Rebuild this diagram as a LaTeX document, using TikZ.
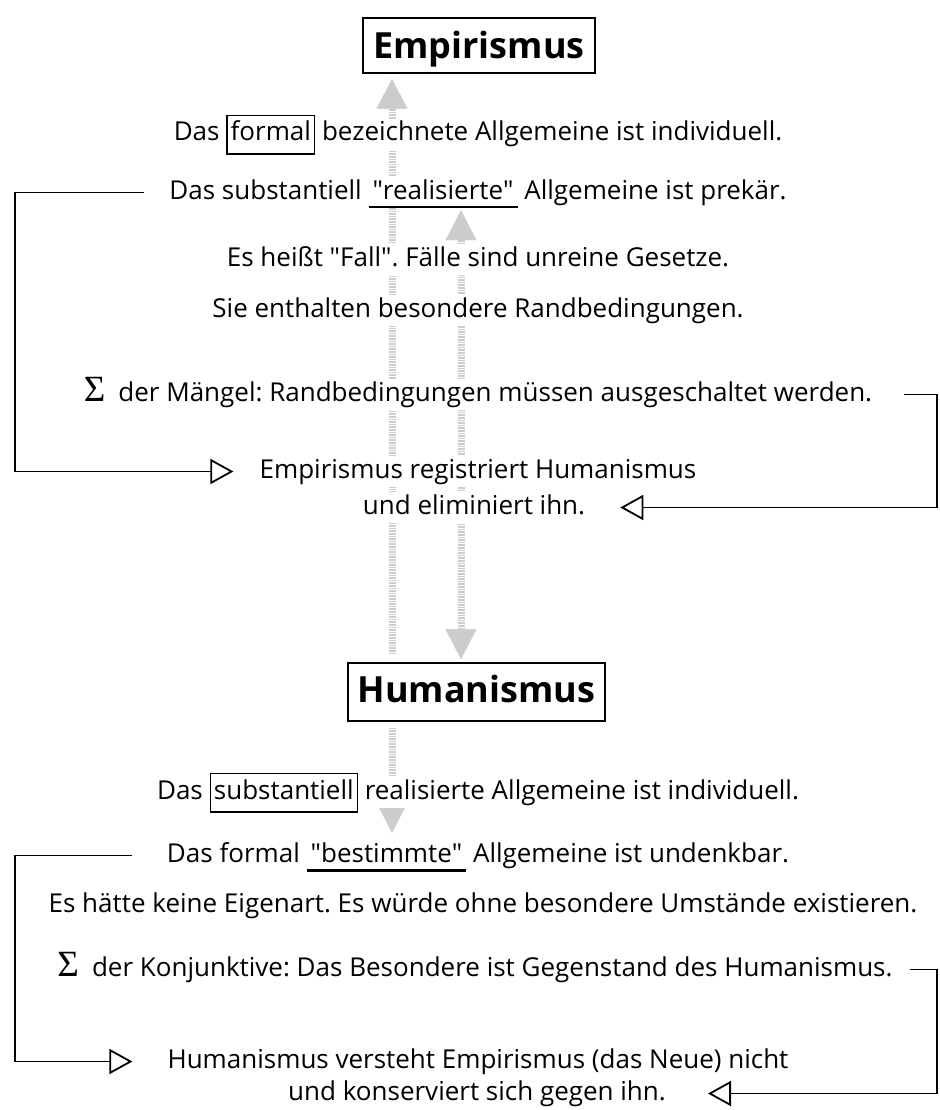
\documentclass[tikz,border=0pt]{standalone}
\usepackage{fontspec}
\setmainfont{Open Sans}
\newfontfamily\summenschrift{Liberation Serif}
\usepackage{tikz}
\usetikzlibrary{positioning, arrows.meta, calc, backgrounds}
\frenchspacing

\newcommand{\rahmen}[1]{{\setlength{\fboxsep}{3pt}\setlength{\fboxrule}{1.3pt}\fbox{\strut #1}}}
\newcommand{\unterstr}[1]{\setbox0\hbox{\kern4pt #1\kern4pt}\rlap{\rule[-9.5pt]{\wd0}{2.6pt}}\box0\relax}
\newcommand{\summe}{{\summenschrift\fontsize{37}{37}\selectfont Σ}\hspace{13pt}}
\newcommand{\gz}{\textquotedbl}

\begin{document}
\begin{tikzpicture}[x=1pt, y=-1pt,
                grauspitze/.tip={Triangle[length=30pt, width=31pt, line width=0.4pt, fill=gray!40]},
                titel/.style={draw=black, line width=1.6pt, fill=white, inner sep=0pt, font=\fontsize{36}{44}\fontseries{sb}\selectfont, text height=26pt, text depth=0pt},
                zeile/.style={anchor=base, fill=white, inner xsep=0pt, inner ysep=3pt, font=\fontsize{26}{31}\selectfont, text height=19pt, text depth=6pt},
                klammer/.style={line width=1.8pt, -{Triangle[open, length=23pt, width=25pt]}},
                pfeil/.style={draw=gray!40, line width=7pt, dash pattern=on 1.6pt off 1pt, -grauspitze}
            ]
            \useasboundingbox (0,0) rectangle (939,1110);

            % Knoten
            \node[titel, minimum width=232pt, minimum height=55pt] (emp) at (479,45.5) {Empirismus};
            \node[zeile] (z1) at (478,141) {Das \rahmen{formal} bezeichnete Allgemeine ist individuell.};
            \node[zeile] (z2) at (478,199) {Das substantiell \unterstr{\gz realisierte\gz} Allgemeine ist prekär.};
            \node[zeile] (z3) at (478,266) {Es heißt \gz Fall\gz. Fälle sind unreine Gesetze.};
            \node[zeile] (z4) at (478,317) {Sie enthalten besondere Randbedingungen.};
            \node[zeile] (z5) at (478,401) {\summe der Mängel: Randbedingungen müssen ausgeschaltet werden.};
            \node[zeile] (z6) at (478,478) {Empirismus registriert Humanismus};
            \node[zeile] (z7) at (474,514) {und eliminiert ihn.};

            \node[titel, minimum width=257pt, minimum height=58pt, text height=27pt, text depth=7pt] (hum) at (476.5,692) {Humanismus};
            \node[zeile] (z8) at (478,799) {Das \rahmen{substantiell} realisierte Allgemeine ist individuell.};
            \node[zeile] (z9) at (478,862) {Das formal \unterstr{\gz bestimmte\gz} Allgemeine ist undenkbar.};
            \node[zeile] (z10) at (483,912) {Es hätte keine Eigenart. Es würde ohne besondere Umstände existieren.};
            \node[zeile] (z11) at (475,976) {\summe der Konjunktive: Das Besondere ist Gegenstand des Humanismus.};
            \node[zeile] (z12) at (478,1068) {Humanismus versteht Empirismus (das Neue) nicht};
            \node[zeile] (z13) at (477,1100) {und konserviert sich gegen ihn.};

            \coordinate (schieneL) at (15,0);
            \coordinate (schieneR) at (937,0);
            \coordinate (spalteL) at (392,0);
            \coordinate (spalteR) at (461,0);

            % Kanten zwischen Knoten
            \draw[klammer] ([xshift=-25pt]z2.west) -- (z2.west -| schieneL) |- ([xshift=-26pt]z6.west);
            \draw[klammer] ([xshift=32pt]z5.east) -- (z5.east -| schieneR) |- ([xshift=35pt]z7.east);
            \draw[klammer] ([xshift=-35pt]z9.west) -- (z9.west -| schieneL) |- ([xshift=-35pt]z12.west);
            \draw[klammer] ([xshift=17pt]z11.east) -- (z11.east -| schieneR) |- ([xshift=42pt]z13.east);

            \begin{scope}[on background layer]
                \draw[pfeil, shorten <=8pt, shorten >=5pt] (spalteL |- hum.north) -- (spalteL |- emp.south);
                \draw[pfeil, grauspitze-grauspitze, shorten <=2pt, shorten >=3pt] (spalteR |- z2.south) -- (spalteR |- hum.north);
                \draw[pfeil, shorten <=6pt, shorten >=7pt] (spalteL |- hum.south) -- (spalteL |- z9.north);
            \end{scope}

        \end{tikzpicture}
\end{document}
